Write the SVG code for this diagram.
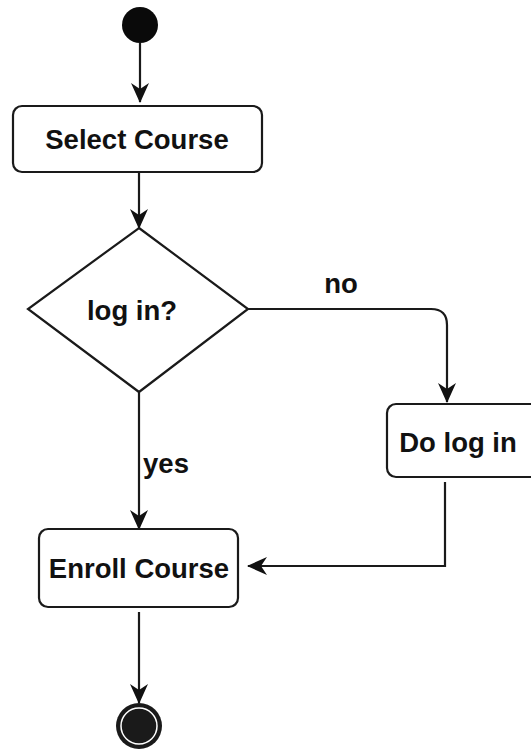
<svg xmlns="http://www.w3.org/2000/svg" width="531" height="753" viewBox="0 0 531 753">
<style>
.node{fill:#fff;stroke:#1a1a1a;stroke-width:2.2}
.lbl{font-family:"Liberation Sans",Arial,sans-serif;font-weight:bold;font-size:27.5px;fill:#111;text-anchor:middle}
.edge{fill:none;stroke:#1a1a1a;stroke-width:2.2}
</style>
<defs>
<marker id="arr" viewBox="0 0 20 18" refX="19" refY="9" markerWidth="20" markerHeight="18" markerUnits="userSpaceOnUse" orient="auto">
<path d="M0,0 L20,9 L0,18 L6,9 Z" fill="#111"/>
</marker>
</defs>
<rect width="531" height="753" fill="#fff"/>
<g id="connectors">
<path class="edge" d="M140,43 V102" marker-end="url(#arr)"/>
<path class="edge" d="M139,172 V228" marker-end="url(#arr)"/>
<path class="edge" d="M248,309 H431 Q447,309 447,325 V402" marker-end="url(#arr)"/>
<path class="edge" d="M139,392 V529" marker-end="url(#arr)"/>
<path class="edge" d="M445,482 V566 H248" marker-end="url(#arr)"/>
<path class="edge" d="M139,612 V703" marker-end="url(#arr)"/>
<text class="lbl" x="341" y="293">no</text>
<text class="lbl" x="166" y="473">yes</text>
</g>
<g id="start"><circle cx="140" cy="25" r="18" fill="#0a0a0a"/></g>
<g id="select-course">
<rect class="node" x="13" y="106" width="249" height="66" rx="9"/>
<text class="lbl" x="137" y="149">Select Course</text>
</g>
<g id="decision">
<path class="node" d="M139,228 L248,309 L139,392 L28,309 Z"/>
<text class="lbl" x="132" y="320">log in?</text>
</g>
<g id="do-log-in">
<rect class="node" x="387" y="404" width="160" height="73" rx="9"/>
<text class="lbl" x="458" y="452">Do log in</text>
</g>
<g id="enroll-course">
<rect class="node" x="39" y="529" width="199" height="78" rx="9"/>
<text class="lbl" x="139" y="578">Enroll Course</text>
</g>
<g id="end">
<circle cx="139" cy="726" r="23" fill="#1a1a1a"/>
<circle cx="139" cy="726" r="18" fill="#1a1a1a" stroke="#fff" stroke-width="1.5"/>
</g>
</svg>
